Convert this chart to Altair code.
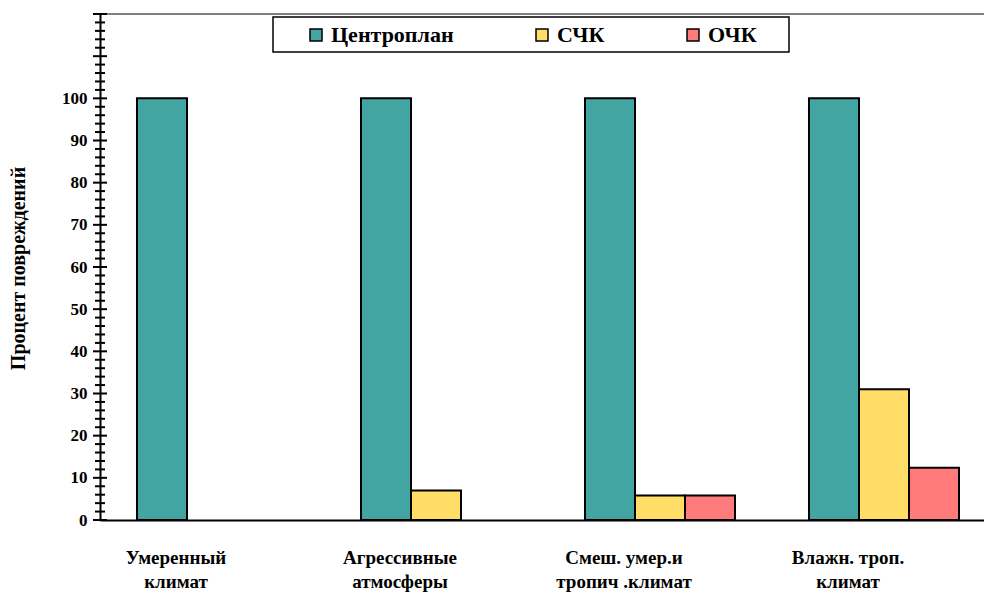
import altair as alt
import pandas as pd

# Categories (two-line labels) and series
categories = [
    "Умеренный\nклимат",
    "Агрессивные\nатмосферы",
    "Смеш. умер.и\nтропич .климат",
    "Влажн. троп.\nклимат",
]
series = ["Центроплан", "СЧК", "ОЧК"]

# Damage percentage per series, one value per category
centroplan = [100, 100, 100, 100]
sck = [0, 7, 5.8, 31]
ock = [0, 0, 5.8, 12.4]

series_colors = ["#43A5A1", "#FFDD66", "#FF7A7A"]

# Axis tick labels and tick marks
y_labels = [0, 10, 20, 30, 40, 50, 60, 70, 80, 90, 100]
y_ticks = list(range(0, 121, 2))

rows = []
for name, vals in zip(series, [centroplan, sck, ock]):
    for cat, v in zip(categories, vals):
        rows.append({"category": cat, "series": name, "value": v})
df = pd.DataFrame(rows)
tick_df = pd.DataFrame({"value": y_ticks})

W, H = 884, 506
FONT = "Liberation Serif, Times New Roman, serif"
y_scale = alt.Scale(domain=[0, 120], nice=False, zero=True)

y_axis = alt.Axis(
    values=y_labels,
    ticks=False,
    grid=False,
    domainColor="black",
    domainWidth=2,
    labelFont=FONT,
    labelFontSize=17,
    labelFontWeight="bold",
    labelColor="black",
    labelPadding=13,
    title="Процент повреждений",
    titleFont=FONT,
    titleFontSize=20,
    titleFontWeight="bold",
    titleColor="black",
    titleAngle=270,
    titleX=-82,
    titleY=254,
    titleAlign="center",
    titleBaseline="middle",
)

bars = (
    alt.Chart(df)
    .transform_filter("datum.value > 0")
    .mark_bar(stroke="black", strokeWidth=2, opacity=1)
    .encode(
        x=alt.X(
            "category:N",
            sort=categories,
            scale=alt.Scale(
                domain=categories,
                paddingInner=0.33036,
                paddingOuter=0.13839,
                align=0.5968,
                round=False,
            ),
            axis=alt.Axis(
                title=None,
                ticks=False,
                domainColor="black",
                domainWidth=2,
                labelAngle=0,
                labelExpr="split(datum.label, '\\n')",
                labelFont=FONT,
                labelFontSize=19,
                labelFontWeight="bold",
                labelColor="black",
                labelLineHeight=24,
                labelPadding=28,
                labelOffset=-36,
            ),
        ),
        xOffset=alt.XOffset(
            "series:N",
            sort=series,
            scale=alt.Scale(domain=series, paddingInner=0, paddingOuter=0),
        ),
        y=alt.Y("value:Q", scale=y_scale, axis=y_axis),
        color=alt.Color(
            "series:N",
            scale=alt.Scale(domain=series, range=series_colors),
            legend=alt.Legend(
                orient="none",
                legendX=205,
                legendY=10,
                direction="horizontal",
                columns=3,
                title=None,
                symbolType="square",
                symbolSize=144,
                symbolStrokeColor="black",
                symbolStrokeWidth=1.5,
                symbolOpacity=1,
                labelFont=FONT,
                labelFontSize=22,
                labelFontWeight="bold",
                labelColor="black",
                labelOffset=4,
                columnPadding=77,
                padding=0,
            ),
        ),
    )
)

# Minor/major ticks crossing the value axis
ticks = (
    alt.Chart(tick_df)
    .mark_tick(orient="horizontal", color="black", thickness=2, opacity=1)
    .encode(
        y=alt.Y("value:Q", scale=y_scale, axis=y_axis),
        x=alt.value(0),
        size=alt.condition("datum.value % 10 == 0", alt.value(14), alt.value(10)),
    )
)

# Top frame line
top_line = (
    alt.Chart(pd.DataFrame({"a": [0]}))
    .mark_rule(color="black", strokeWidth=1)
    .encode(y=alt.value(0), x=alt.value(0), x2=alt.value(W))
)

# Legend frame
legend_box = (
    alt.Chart(pd.DataFrame({"a": [0]}))
    .mark_rect(fill="white", stroke="black", strokeWidth=1.5)
    .encode(x=alt.value(173), x2=alt.value(689), y=alt.value(3), y2=alt.value(38))
)

chart = (
    alt.layer(top_line, legend_box, bars, ticks)
    .properties(
        width=W,
        height=H,
        padding={"left": 100, "top": 14, "right": 0, "bottom": 72},
        autosize=alt.AutoSizeParams(type="none"),
        background="white",
    )
    .configure_view(stroke=None)
)

chart.save("out.html", embed_options={"renderer": "svg", "actions": False})
